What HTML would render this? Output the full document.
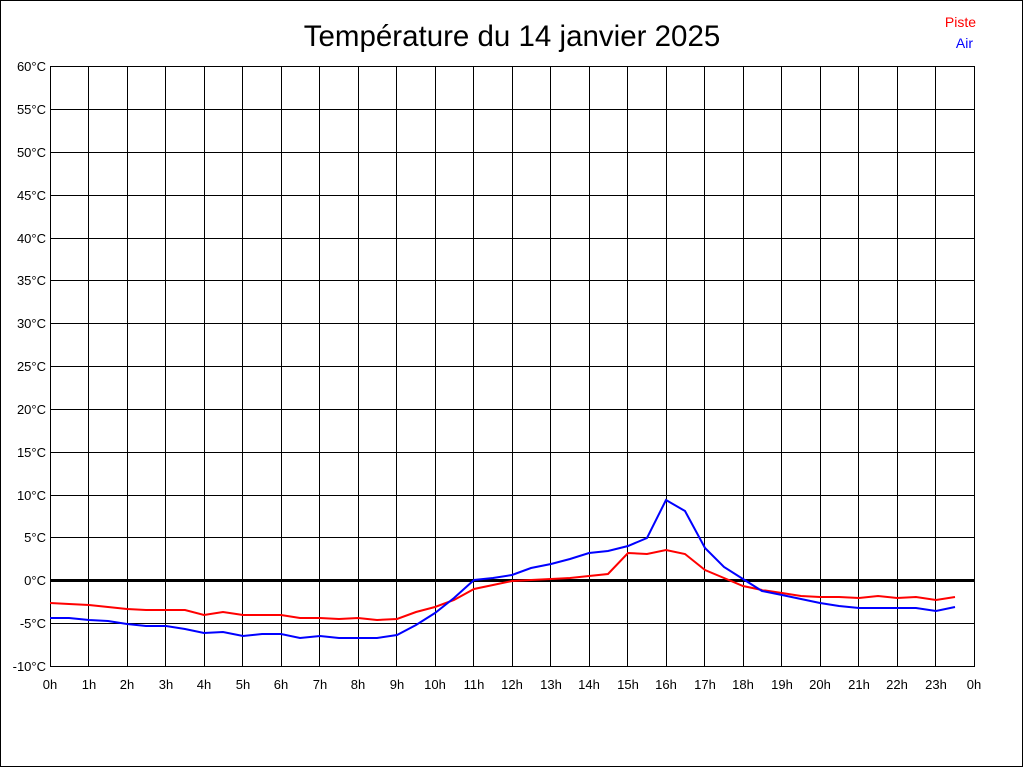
<!DOCTYPE html>
<html><head><meta charset="utf-8"><style>
html,body{margin:0;padding:0;background:#fff;}
svg{display:block;font-family:"Liberation Sans",Arial,sans-serif;}
</style></head><body>
<svg width="1024" height="768" viewBox="0 0 1024 768" xmlns="http://www.w3.org/2000/svg">
<rect x="0.5" y="0.5" width="1022" height="766" fill="#fff" stroke="#000" stroke-width="1"/>
<text x="512" y="46" font-size="29.5" text-anchor="middle" fill="#000">Température du 14 janvier 2025</text>
<text x="976" y="27" font-size="14" text-anchor="end" fill="#f00">Piste</text>
<text x="973" y="48" font-size="14" text-anchor="end" fill="#00f">Air</text>
<g stroke="#000" stroke-width="1" shape-rendering="crispEdges">
<path d="M50.5 66V666M88.5 66V666M127.5 66V666M165.5 66V666M204.5 66V666M242.5 66V666M281.5 66V666M319.5 66V666M358.5 66V666M396.5 66V666M435.5 66V666M473.5 66V666M512.5 66V666M550.5 66V666M589.5 66V666M627.5 66V666M666.5 66V666M704.5 66V666M743.5 66V666M781.5 66V666M820.5 66V666M858.5 66V666M897.5 66V666M935.5 66V666M974.5 66V666"/>
<path d="M50 66.5H975M50 109.5H975M50 152.5H975M50 195.5H975M50 238.5H975M50 280.5H975M50 323.5H975M50 366.5H975M50 409.5H975M50 452.5H975M50 495.5H975M50 537.5H975M50 623.5H975M50 666.5H975"/>
</g>
<rect x="50" y="579" width="925" height="3" fill="#000"/>
<g font-size="13" text-anchor="end" fill="#000">
<text x="46" y="71">60°C</text><text x="46" y="114">55°C</text><text x="46" y="157">50°C</text><text x="46" y="200">45°C</text><text x="46" y="243">40°C</text><text x="46" y="285">35°C</text><text x="46" y="328">30°C</text><text x="46" y="371">25°C</text><text x="46" y="414">20°C</text><text x="46" y="457">15°C</text><text x="46" y="500">10°C</text><text x="46" y="542">5°C</text><text x="46" y="585">0°C</text><text x="46" y="628">-5°C</text><text x="46" y="671">-10°C</text>
</g>
<g font-size="13" text-anchor="middle" fill="#000">
<text x="50" y="689">0h</text><text x="89" y="689">1h</text><text x="127" y="689">2h</text><text x="166" y="689">3h</text><text x="204" y="689">4h</text><text x="243" y="689">5h</text><text x="281" y="689">6h</text><text x="320" y="689">7h</text><text x="358" y="689">8h</text><text x="397" y="689">9h</text><text x="435" y="689">10h</text><text x="474" y="689">11h</text><text x="512" y="689">12h</text><text x="551" y="689">13h</text><text x="589" y="689">14h</text><text x="628" y="689">15h</text><text x="666" y="689">16h</text><text x="705" y="689">17h</text><text x="743" y="689">18h</text><text x="782" y="689">19h</text><text x="820" y="689">20h</text><text x="859" y="689">21h</text><text x="897" y="689">22h</text><text x="936" y="689">23h</text><text x="974" y="689">0h</text>
</g>
<polyline fill="none" stroke="#f00" stroke-width="2" points="50,603 69,604 89,605 108,607 127,609 146,610 166,610 185,610 204,615 223,612 243,615 262,615 281,615 300,618 320,618 339,619 358,618 377,620 397,619 416,612 435,607 454,600 474,589 493,585 512,581 531,580 551,579 570,578 589,576 608,574 628,553 647,554 666,550 685,554 705,570 724,578 743,586 762,590 782,593 801,596 820,597 839,597 859,598 878,596 897,598 916,597 936,600 955,597"/>
<polyline fill="none" stroke="#00f" stroke-width="2" points="50,618 69,618 89,620 108,621 127,624 146,626 166,626 185,629 204,633 223,632 243,636 262,634 281,634 300,638 320,636 339,638 358,638 377,638 397,635 416,625 435,613 454,598 474,580 493,578 512,575 531,568 551,564 570,559 589,553 608,551 628,546 647,538 666,500 685,511 705,548 724,567 743,579 762,591 782,595 801,599 820,603 839,606 859,608 878,608 897,608 916,608 936,611 955,607"/>
</svg>
</body></html>
